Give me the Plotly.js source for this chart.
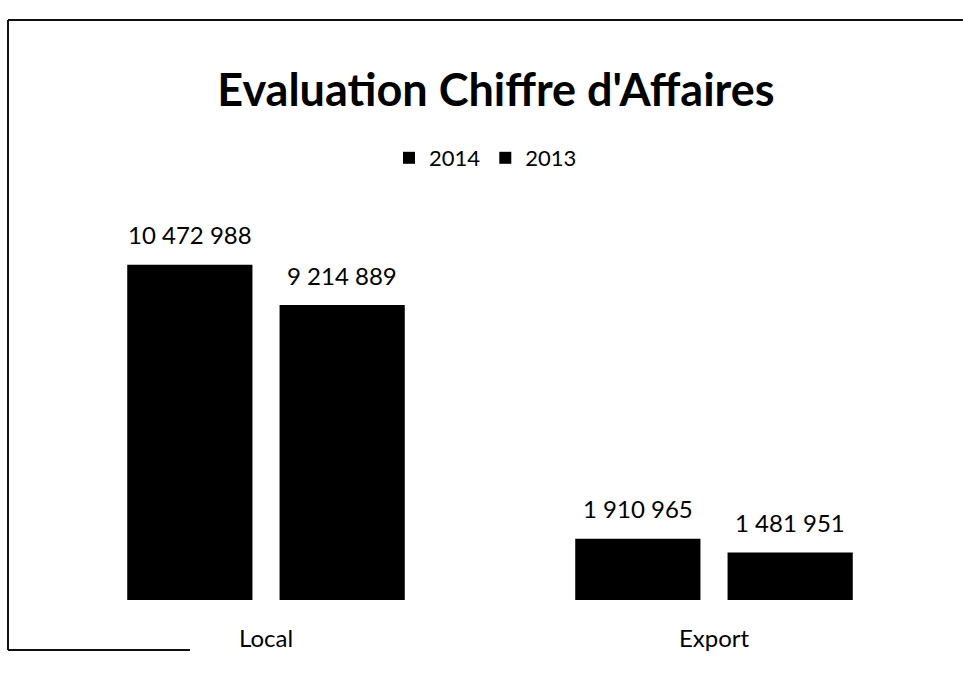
<!DOCTYPE html>
<html>
<head>
<meta charset="utf-8">
<script src="https://cdn.plot.ly/plotly-3.0.1.min.js"></script>
<style>html,body{margin:0;padding:0;background:#fff;}#chart{width:963px;height:675px;}</style>
</head>
<body>
<div id="chart"></div>
<script>
const categories = ["Local", "Export"];
const series2014 = [10472988, 1910965];
const series2013 = [9214889, 1481951];
const seriesNames = ["2014", "2013"];

function fmt(v){ return String(v).replace(/\B(?=(\d{3})+(?!\d))/g, " "); }

const FONT = "Lato, 'Open Sans', sans-serif";
const bargap = 0.32, bargroupgap = 0.178;
const slot = (1 - bargap) / 2;

const traces = [series2014, series2013].map((vals, i) => ({
  type: "bar", name: seriesNames[i], x: categories, y: vals,
  marker: {color: "#000"}, hoverinfo: "skip"
}));

const annotations = [];
[series2014, series2013].forEach((vals, i) => {
  vals.forEach((v, j) => {
    annotations.push({
      xref: "x", yref: "y", x: j + (i === 0 ? -slot/2 : slot/2), y: v,
      text: fmt(v), showarrow: false, yanchor: "middle", yshift: 30,
      font: {family: FONT, size: 24, color: "#000"}
    });
  });
});

// frame (paper coords relative to plot area l=42,w=896,t=200,h=400)
const px = p => (p - 42) / 896, py = p => (600 - p) / 400;
const line = {color: "#111", width: 2};
const shapes = [
  {type: "line", xref: "paper", yref: "paper", x0: px(8), x1: px(8), y0: py(20), y1: py(650), line},
  {type: "line", xref: "paper", yref: "paper", x0: px(8), x1: px(963), y0: py(20), y1: py(20), line},
  {type: "line", xref: "paper", yref: "paper", x0: px(8), x1: px(190), y0: py(650), y1: py(650), line}
];

const layout = {
  width: 963, height: 675,
  margin: {l: 42, r: 25, t: 200, b: 75},
  paper_bgcolor: "#fff", plot_bgcolor: "#fff",
  barmode: "group", bargap, bargroupgap,
  title: {text: "<b>Evaluation Chiffre d'Affaires</b>", x: 0.515, xanchor: "center",
          yref: "container", y: 1 - 90/675, yanchor: "middle",
          font: {family: FONT, size: 45, color: "#000"}},
  showlegend: true,
  legend: {orientation: "h", x: 0.495, xanchor: "center", yref: "container", y: 1 - 158/675, yanchor: "middle",
           font: {family: FONT, size: 22, color: "#000"}, itemwidth: 30},
  xaxis: {showline: false, showgrid: false, zeroline: false, ticks: "",
          tickfont: {family: FONT, size: 24, color: "#000"}, ticklabelstandoff: 22},
  yaxis: {range: [0, 12500000], visible: false, showgrid: false, zeroline: false},
  annotations, shapes
};

Plotly.newPlot("chart", traces, layout, {displayModeBar: false, staticPlot: true});
</script>
</body>
</html>
